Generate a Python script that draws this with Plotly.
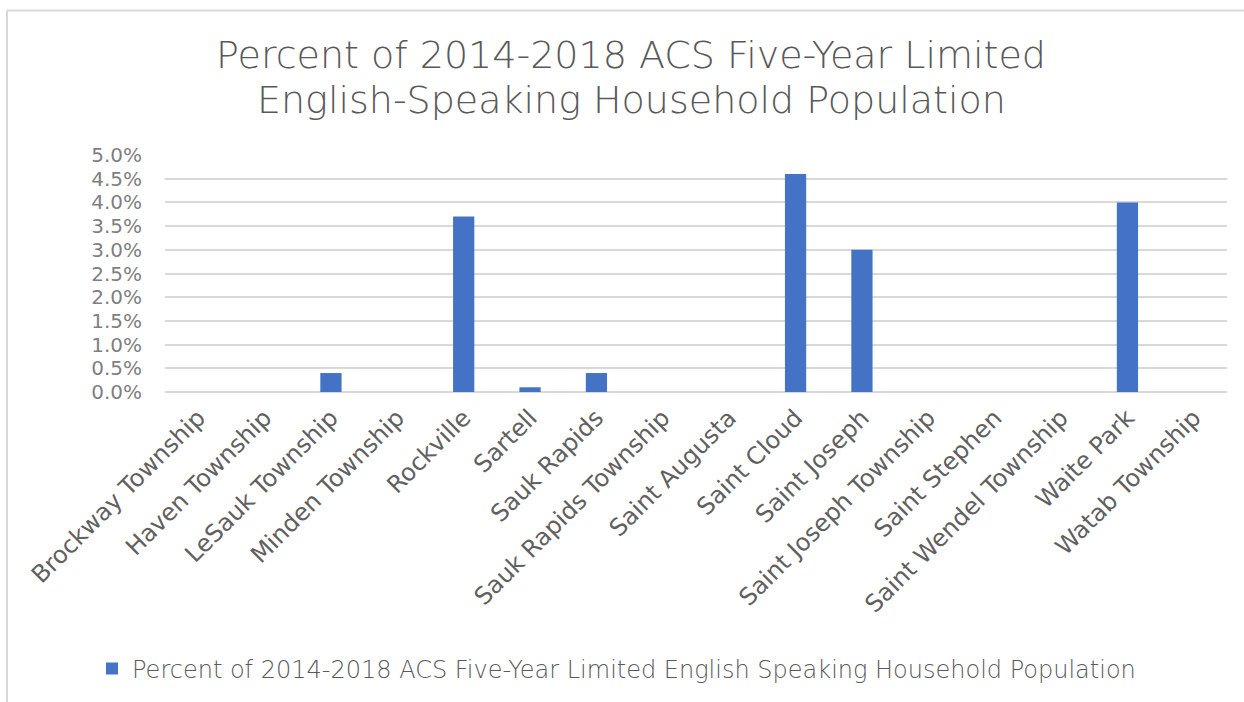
import plotly.graph_objects as go

categories = [
    "Brockway Township", "Haven Township", "LeSauk Township", "Minden Township",
    "Rockville", "Sartell", "Sauk Rapids", "Sauk Rapids Township",
    "Saint Augusta", "Saint Cloud", "Saint Joseph", "Saint Joseph Township",
    "Saint Stephen", "Saint Wendel Township", "Waite Park", "Watab Township",
]
values = [0.0, 0.0, 0.004, 0.0, 0.037, 0.001, 0.004, 0.0,
          0.0, 0.046, 0.030, 0.0, 0.0, 0.0, 0.040, 0.0]
y_ticks = [0.0, 0.005, 0.010, 0.015, 0.020, 0.025, 0.030, 0.035, 0.040, 0.045, 0.050]

series_name = "Percent of 2014-2018 ACS Five-Year Limited English Speaking Household Population"
title_lines = ["Percent of 2014-2018 ACS Five-Year Limited",
               "English-Speaking Household Population"]

W, H = 1244, 702
L, R, T, B = 165, 17, 155, 309
pw, ph = W - L - R, H - T - B

def px_x(x):
    return (x - L) / pw

def px_y(y):
    return (H - B - y) / ph

FONT = "DejaVu Sans"
TEXT = "#595959"

fig = go.Figure()
fig.add_trace(go.Bar(
    x=categories, y=values, name=series_name,
    marker=dict(color="#4472C4", line=dict(width=0)),
    width=0.32,
))

fig.update_layout(
    width=W, height=H,
    margin=dict(l=L, r=R, t=T, b=B),
    paper_bgcolor="white", plot_bgcolor="white",
    font=dict(family=FONT, color=TEXT, weight=300),
    showlegend=True,
    legend=dict(
        orientation="h", x=px_x(92), xanchor="left", y=px_y(669), yanchor="middle",
        font=dict(size=24, color=TEXT, weight=300), itemwidth=30,
    ),
    xaxis=dict(
        tickangle=-45, tickfont=dict(size=24, color="#606060", weight=400),
        showgrid=False, showline=False, ticks="", ticklabelstandoff=6,
    ),
    yaxis=dict(
        range=[0, 0.05], tickvals=y_ticks, tickformat=".1%",
        tickfont=dict(size=20, color="#7f7f7f", weight=400),
        showgrid=True, gridcolor="#d9d9d9", gridwidth=1.5,
        zeroline=True, zerolinecolor="#d9d9d9", zerolinewidth=1.5,
        showline=False, ticks="", ticklabelstandoff=22,
    ),
    bargap=0.68,
)

for i, line in enumerate(title_lines):
    fig.add_annotation(
        text=line, xref="paper", yref="paper",
        x=px_x(631), y=px_y(55 + i * 45), xanchor="center", yanchor="middle",
        showarrow=False, font=dict(size=38, color=TEXT, family=FONT, weight=300),
    )

# outer chart border (top and left edges visible)
fig.add_shape(type="line", xref="paper", yref="paper",
              x0=px_x(7), y0=px_y(10), x1=px_x(W + 5), y1=px_y(10),
              line=dict(color="#d9d9d9", width=2))
fig.add_shape(type="line", xref="paper", yref="paper",
              x0=px_x(7), y0=px_y(10), x1=px_x(7), y1=px_y(H + 5),
              line=dict(color="#d9d9d9", width=2))

fig.write_html("out.html")
